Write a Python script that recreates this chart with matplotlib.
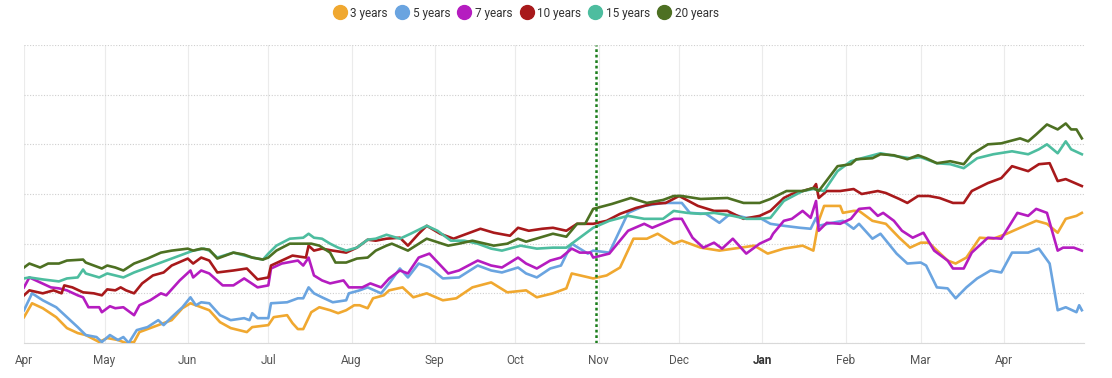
import pandas as pd
import matplotlib
matplotlib.use('Agg')
import matplotlib.pyplot as plt
from matplotlib.lines import Line2D

plt.rcParams['font.family'] = ['Roboto', 'DejaVu Sans']

start = pd.Timestamp('2024-04-01')
marker_date = pd.Timestamp('2024-10-31')

labels = ['3 years', '5 years', '7 years', '10 years', '15 years', '20 years']
colors = ['#f0a830', '#6aa4e0', '#b51cc0', '#a8191b', '#4dbd9f', '#4d7022']

# days since start / relative level (no scale shown on the chart)
days_3y = [0, 3, 7, 12, 16, 20, 23, 28, 31, 35, 38, 41, 43, 47, 52, 55, 59, 62, 66, 69, 73, 77, 83, 85, 91, 93,
           98, 100, 102, 104, 107, 110, 114, 117, 120, 123, 125, 128, 130, 134, 136, 141, 145, 150, 156, 161, 167,
           174, 180, 187, 191, 197, 202, 204, 212, 217, 222, 227, 232, 236, 242, 245, 252, 259, 267, 272, 277, 283,
           290, 294, 296, 298, 304, 305, 309, 311, 316, 321, 326, 330, 334, 337, 344, 347, 351, 356, 361, 366, 371,
           377, 381, 385, 388, 392, 394]
val_3y = [26, 40, 35, 26, 15, 10, 8, 1, 5, 3, 0, 1, 11, 15, 20, 23, 35, 40, 36, 33, 21, 15, 11, 16, 18, 26,
          28, 20, 14, 14, 31, 36, 33, 30, 33, 38, 38, 35, 45, 48, 53, 56, 46, 50, 43, 45, 56,
          61, 51, 53, 46, 50, 55, 70, 65, 68, 76, 105, 105, 110, 100, 103, 96, 93, 96, 98, 90, 95,
          98, 93, 123, 138, 138, 131, 133, 133, 123, 120, 106, 96, 101, 101, 83, 80, 86, 106, 105, 110, 116,
          123, 120, 111, 125, 128, 131]

days_5y = [0, 3, 7, 12, 16, 20, 23, 27, 29, 32, 35, 37, 39, 42, 46, 50, 52, 55, 59, 62, 64, 66, 69, 73, 77, 82,
           84, 85, 87, 91, 92, 98, 102, 104, 106, 108, 111, 115, 120, 121, 125, 128, 133, 136, 140, 143, 147, 151,
           156, 162, 169, 174, 178, 184, 187, 191, 196, 200, 204, 210, 212, 218, 225, 231, 238, 245, 248, 254, 259,
           263, 269, 274, 278, 283, 289, 293, 295, 296, 301, 305, 309, 311, 316, 319, 325, 329, 334, 336, 340, 344,
           347, 351, 355, 360, 364, 368, 374, 378, 382, 385, 388, 392, 393, 394]
val_5y = [33, 50, 43, 36, 26, 16, 8, 6, 1, 8, 3, 6, 0, 13, 16, 23, 18, 26, 36, 46, 38, 41, 40, 28, 23, 25,
          23, 30, 25, 25, 40, 41, 45, 45, 56, 50, 46, 41, 43, 50, 53, 56, 50, 60, 75, 66, 80, 76,
          65, 66, 78, 73, 71, 76, 70, 66, 75, 78, 100, 90, 93, 91, 131, 138, 141, 141, 131, 130, 121,
          130, 126, 126, 120, 118, 116, 115, 126, 118, 121, 123, 115, 120, 105, 110, 90, 80, 81, 78, 56, 55,
          45, 56, 65, 73, 71, 91, 91, 95, 80, 33, 36, 31, 38, 33]

days_7y = [0, 2, 6, 10, 13, 16, 20, 22, 24, 28, 29, 32, 34, 37, 41, 43, 47, 51, 53, 58, 62, 63, 66, 69, 74, 78,
           82, 87, 91, 92, 96, 102, 104, 106, 108, 111, 114, 119, 121, 126, 129, 133, 136, 140, 143, 147, 151, 158,
           162, 169, 174, 178, 184, 187, 191, 196, 200, 204, 207, 211, 212, 218, 225, 231, 234, 242, 245, 249, 253,
           257, 260, 264, 269, 274, 278, 279, 283, 286, 290, 293, 295, 296, 299, 304, 308, 311, 315, 318, 320, 324,
           327, 331, 335, 339, 344, 346, 350, 353, 359, 364, 370, 374, 377, 381, 385, 387, 391, 394]
val_7y = [56, 66, 61, 56, 55, 53, 48, 46, 36, 36, 31, 37, 35, 36, 28, 38, 43, 50, 48, 63, 73, 66, 73, 70, 58, 58,
          65, 56, 58, 75, 80, 83, 78, 86, 68, 63, 60, 63, 56, 56, 60, 56, 65, 73, 70, 86, 90, 70,
          73, 83, 78, 76, 86, 80, 75, 83, 86, 95, 91, 91, 86, 90, 113, 120, 116, 125, 125, 106, 96,
          101, 95, 105, 90, 100, 105, 110, 123, 125, 133, 126, 143, 113, 121, 120, 125, 135, 136, 128, 131, 123,
          113, 106, 111, 93, 83, 75, 75, 91, 106, 105, 131, 128, 135, 131, 93, 96, 96, 93]

days_10y = [0, 2, 7, 11, 14, 15, 18, 22, 26, 29, 31, 34, 36, 38, 41, 44, 48, 52, 55, 61, 63, 66, 69, 72, 78, 83,
            87, 91, 92, 96, 100, 105, 106, 108, 111, 115, 120, 124, 128, 131, 135, 140, 143, 147, 150, 155, 160,
            165, 170, 175, 181, 184, 188, 193, 197, 202, 206, 212, 217, 222, 228, 234, 239, 244, 251, 257, 262,
            268, 274, 278, 283, 286, 290, 294, 295, 296, 299, 304, 309, 312, 318, 321, 326, 329, 333, 337, 341,
            346, 350, 353, 359, 364, 368, 374, 378, 382, 385, 388, 394]
val_10y = [48, 53, 50, 53, 50, 58, 56, 51, 50, 48, 54, 53, 56, 53, 50, 60, 68, 71, 78, 85, 80, 86, 83, 71, 73, 75,
           64, 66, 78, 83, 88, 86, 98, 93, 95, 93, 91, 96, 104, 103, 105, 106, 98, 110, 118, 110, 105,
           110, 115, 111, 108, 116, 113, 115, 116, 113, 120, 120, 123, 130, 136, 140, 141, 148, 138, 133, 133,
           125, 128, 133, 146, 150, 153, 156, 160, 146, 153, 153, 155, 150, 153, 151, 145, 141, 148, 148, 146,
           141, 141, 153, 161, 166, 178, 173, 180, 181, 163, 165, 158]

days_15y = [0, 2, 7, 13, 16, 20, 22, 23, 28, 31, 34, 37, 41, 46, 51, 55, 61, 63, 67, 69, 72, 78, 85, 89, 91, 94,
            99, 104, 106, 108, 111, 114, 117, 120, 124, 128, 131, 135, 140, 144, 150, 154, 159, 164, 169, 174, 178,
            185, 191, 197, 202, 207, 212, 218, 225, 231, 238, 242, 247, 252, 257, 264, 269, 274, 278, 283, 290,
            294, 298, 303, 308, 312, 319, 325, 330, 334, 340, 345, 350, 355, 361, 368, 374, 378, 381, 385, 388,
            390, 394]
val_15y = [65, 66, 64, 62, 65, 66, 74, 70, 66, 70, 68, 66, 71, 76, 81, 85, 91, 93, 95, 93, 86, 91, 86, 84, 90, 98,
           105, 106, 110, 106, 105, 100, 96, 93, 96, 104, 105, 109, 105, 110, 118, 113, 103, 103, 100, 95, 93,
           98, 95, 96, 96, 106, 116, 123, 128, 125, 125, 133, 131, 130, 131, 128, 125, 125, 126, 143, 153,
           155, 153, 173, 183, 186, 191, 188, 186, 187, 181, 180, 176, 186, 190, 193, 190, 195, 200, 191, 203,
           195, 190]

days_20y = [0, 2, 6, 9, 13, 16, 22, 23, 28, 29, 31, 34, 37, 41, 46, 51, 55, 61, 63, 66, 69, 72, 78, 82, 85, 89,
            91, 94, 99, 107, 110, 114, 116, 120, 124, 128, 131, 135, 137, 143, 150, 158, 162, 167, 175, 180, 184,
            187, 192, 197, 202, 206, 209, 212, 219, 226, 232, 238, 242, 245, 252, 262, 268, 274, 278, 284, 290,
            294, 296, 303, 308, 310, 316, 319, 324, 329, 333, 336, 340, 345, 350, 353, 359, 364, 371, 374, 377,
            381, 385, 388, 390, 392, 394]
val_20y = [76, 80, 76, 80, 80, 83, 84, 81, 76, 75, 78, 76, 73, 80, 85, 91, 93, 95, 93, 95, 94, 85, 91, 89, 86, 84,
           86, 93, 100, 100, 98, 91, 81, 81, 85, 86, 93, 98, 100, 93, 105, 98, 100, 103, 98, 100, 105,
           102, 106, 110, 107, 120, 120, 135, 140, 146, 141, 144, 148, 148, 145, 146, 141, 141, 145, 153, 153,
           156, 153, 178, 180, 185, 186, 190, 189, 185, 189, 186, 181, 183, 180, 190, 200, 201, 206, 203, 210,
           220, 215, 221, 215, 215, 206]

series = [
    (days_3y, val_3y), (days_5y, val_5y), (days_7y, val_7y),
    (days_10y, val_10y), (days_15y, val_15y), (days_20y, val_20y),
]

fig = plt.figure(figsize=(11.12, 3.78), dpi=100)
ax = fig.add_axes([24 / 1112, 1 - 343 / 378, 1060 / 1112, 298 / 378])

for (d, v), c in zip(series, colors):
    dates = start + pd.to_timedelta(d, unit='D')
    ax.plot(dates, v, color=c, lw=1.9, solid_joinstyle='round', zorder=3)

ax.axvline(marker_date, color='#1b7d1b', ls=(0, (1.1, 1.1)), lw=1.8, zorder=4)

ax.set_xlim(start, start + pd.Timedelta(days=394.8))
ax.set_ylim(0, 300)
ax.set_yticks(range(0, 301, 50))
ax.tick_params(axis='y', length=0, labelleft=False)
ax.grid(axis='y', color='#cfcfcf', ls=(0, (1, 1.5)), lw=0.8)

months = pd.date_range('2024-04-01', '2025-04-01', freq='MS')
ax.set_xticks(months)
ax.set_xticklabels([m.strftime('%b') for m in months])
ax.grid(axis='x', color='#ebebeb', lw=0.8)
ax.tick_params(axis='x', length=0, pad=8, labelsize=8.5, labelcolor='#555555')
for t in ax.get_xticklabels():
    if t.get_text() == 'Jan':
        t.set_fontweight('bold')
        t.set_color('#333333')

for s in ['top', 'right', 'left']:
    ax.spines[s].set_visible(False)
ax.spines['bottom'].set_color('#d9d9d9')

handles = [Line2D([], [], marker='o', ls='', markersize=10, color=c) for c in colors]
fig.legend(handles, labels, loc='center', bbox_to_anchor=(527 / 1112, 1 - 13 / 378), ncol=6,
           frameon=False, handletextpad=0.5, columnspacing=0.8, handlelength=0.8,
           fontsize=8.5, labelcolor='#333333')

fig.savefig('out.png', dpi=100)
